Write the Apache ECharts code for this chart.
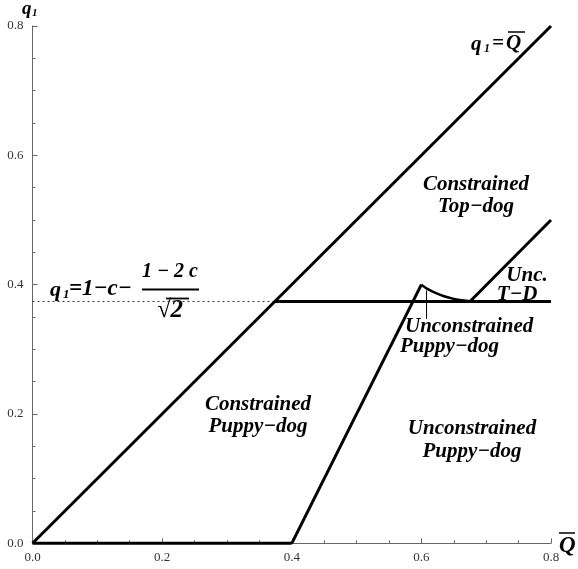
<!DOCTYPE html>
<html>
<head>
<meta charset="utf-8">
<script src="https://cdn.jsdelivr.net/npm/echarts@6/dist/echarts.min.js"></script>
<style>html,body{margin:0;padding:0;background:#fff}#c{width:578px;height:569px}</style>
</head>
<body>
<div id="c"></div>
<script>
// ---- data ----
const xTickValues = [0, 0.2, 0.4, 0.6, 0.8];
const yTickValues = [0, 0.2, 0.4, 0.6, 0.8];
const diagonal = [[0, 0], [0.8, 0.8]];
const baseSegment = [[0, 0], [0.4, 0]];
const risingSegment = [[0.4, 0], [0.6, 0.4]];
const curveSegment = [[0.6, 0.4], [0.61, 0.393], [0.62, 0.388], [0.635, 0.382], [0.65, 0.378], [0.665, 0.3755], [0.675, 0.3745]];
const upperSegment = [[0.675, 0.374], [0.8, 0.5]];
const thresholdLine = [[0.374, 0.374], [0.8, 0.374]];
const thresholdDotted = [[0, 0.374], [0.374, 0.374]];
const markerTick = [[0.608, 0.391], [0.608, 0.347]];

const FONT = '"Liberation Serif", "Times New Roman", serif';
const chart = echarts.init(document.getElementById('c'), null, {renderer: 'canvas'});

function line(data, width, extra) {
  return Object.assign({
    type: 'line', data: data, showSymbol: false, symbol: 'none', clip: false,
    lineStyle: {color: '#000', width: width}, animation: false, silent: true
  }, extra || {});
}
function T(text, x, y, size, align, lh) {
  return {type: 'text', x: x, y: y, silent: true, style: {
    text: text, fill: '#000', textAlign: align || 'left', textVerticalAlign: 'middle',
    font: 'italic bold ' + size + 'px ' + FONT, lineHeight: lh || (size + 1)
  }};
}
function L(x1, y1, x2, y2, w) {
  return {type: 'line', silent: true, shape: {x1: x1, y1: y1, x2: x2, y2: y2}, style: {stroke: '#000', lineWidth: w || 1.5}};
}

const tickLabelStyle = {color: '#333', fontFamily: FONT, fontSize: 13, formatter: v => v.toFixed(1)};
const axisCommon = {
  type: 'value', min: 0, max: 0.8, interval: 0.2,
  axisLine: {show: true, lineStyle: {color: '#666', width: 1}},
  axisTick: {show: true, inside: true, length: 5, lineStyle: {color: '#666'}},
  minorTick: {show: true, splitNumber: 4, length: 3, lineStyle: {color: '#666'}},
  splitLine: {show: false}, minorSplitLine: {show: false}
};

chart.setOption({
  animation: false,
  grid: {left: 32.5, right: 27, top: 26, bottom: 25.7},
  xAxis: Object.assign({}, axisCommon, {axisLabel: Object.assign({margin: 8}, tickLabelStyle)}),
  yAxis: Object.assign({}, axisCommon, {axisLabel: Object.assign({margin: 9}, tickLabelStyle)}),
  series: [
    line(thresholdDotted, 1, {lineStyle: {color: '#333', width: 1, type: [2, 3]}}),
    line(diagonal, 3),
    line(baseSegment, 3),
    line(risingSegment, 3),
    line(curveSegment, 2.5, {smooth: 0.3}),
    line(upperSegment, 3),
    line(thresholdLine, 3),
    line(markerTick, 1)
  ],
  graphic: [
    // axis names
    T('q', 22, 9, 19), T('1', 32, 13, 11),
    T('Q', 559, 546, 23), L(559, 533, 575, 533, 1.5),
    // q1 = Qbar label
    T('q', 471, 45, 21), T('1', 484, 49, 12), T('=', 492, 44, 21), T('Q', 506, 44, 21), L(508, 32, 525, 32, 1.5),
    // region labels
    T('Constrained\nTop\u2212dog', 476, 196, 21, 'center', 22),
    T('Unc.', 527, 276, 21, 'center'),
    T('T\u2212D', 517, 295, 21, 'center'),
    T('Unconstrained', 405, 327, 21, 'left'),
    T('Puppy\u2212dog', 400, 347, 21, 'left'),
    T('Constrained\nPuppy\u2212dog', 258, 416, 21, 'center', 22),
    T('Unconstrained\nPuppy\u2212dog', 472, 440, 21, 'center', 23),
    // formula q1 = 1 - c - (1-2c)/sqrt2
    T('q', 50, 290, 22), T('1', 63, 295, 13), T('=1\u2212c\u2212', 69, 289, 23),
    T('1 \u2212 2 c', 170, 272, 20, 'center'),
    L(142, 289.5, 199, 289.5, 2),
    T('\u221A2', 170, 311, 25, 'center'), L(166, 298.5, 189, 298.5, 1.8)
  ]
});
</script>
</body>
</html>
